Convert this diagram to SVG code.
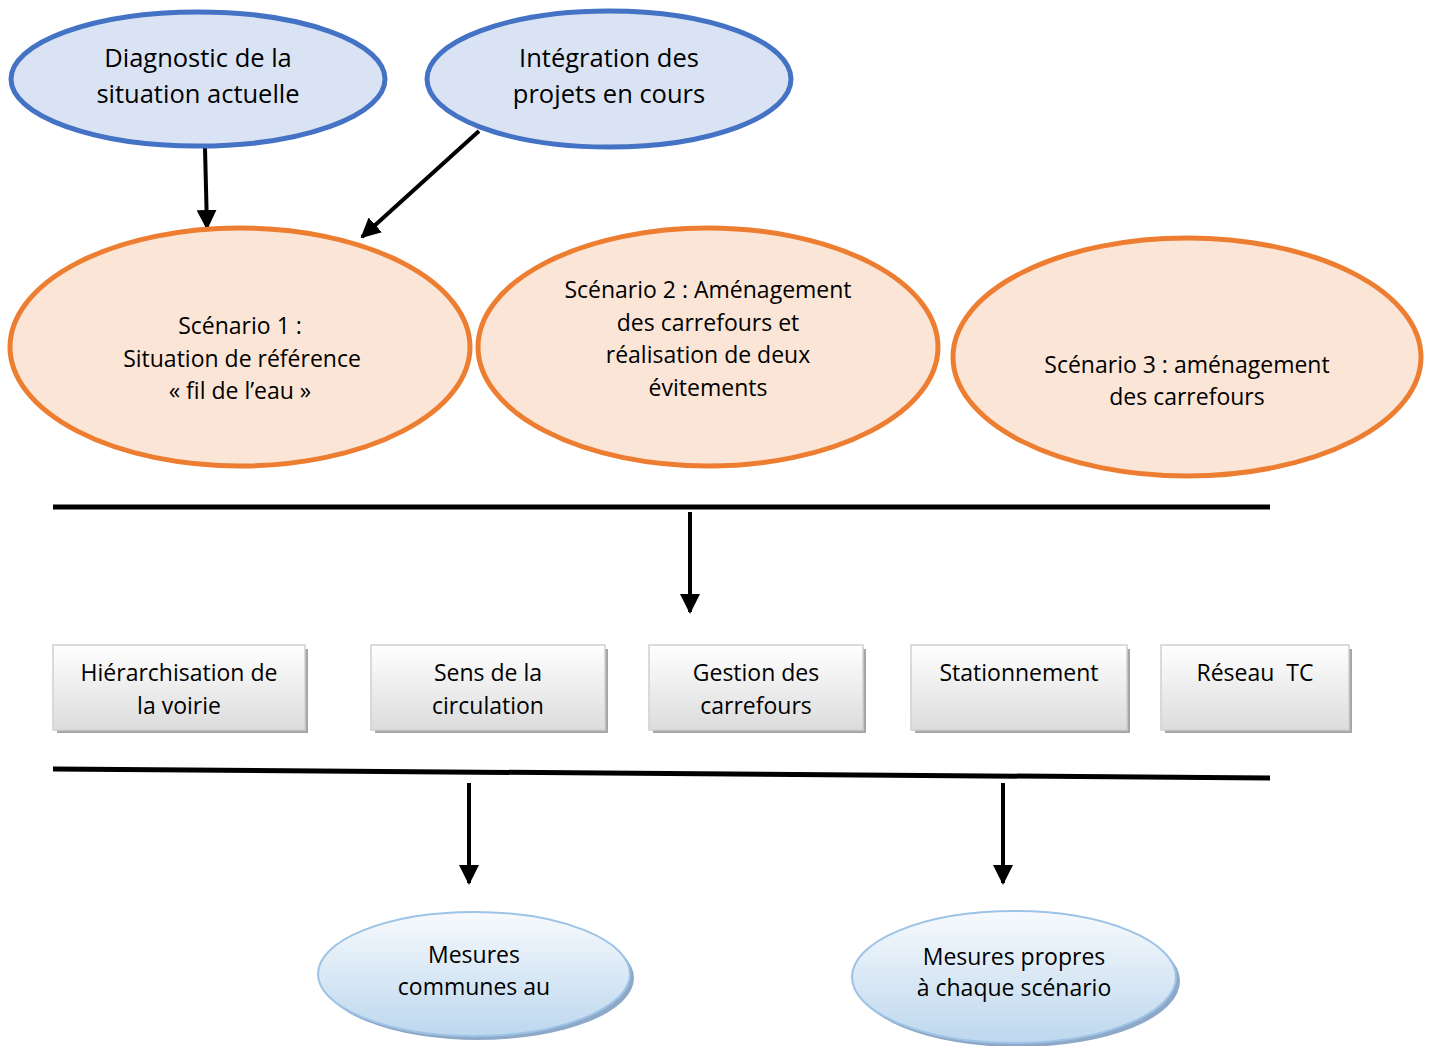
<svg xmlns="http://www.w3.org/2000/svg" width="1429" height="1046" viewBox="0 0 1429 1046">
<style>
text{font-family:"Open Sans","Noto Sans",sans-serif;fill:#000;text-anchor:middle}
.t1{font-size:25.5px}
.t2{font-size:23px}
.blue{fill:#DAE3F3;stroke:#4472C4;stroke-width:5}
.orange{fill:#FBE5D6;stroke:#ED7D31;stroke-width:5}
.box{fill:url(#gbox);stroke:#D0D0D0;stroke-width:1.5}
.shadow{fill:#A6A6A6}
.lb{fill:url(#gell);stroke:#9DC3E6;stroke-width:2}
.esh{fill:#8EA9C8}
.conn{stroke:#000;stroke-width:4;fill:none}
.bar{stroke:#000;stroke-width:5;fill:none}
</style>
<defs>
<marker id="ah" viewBox="0 0 10 10" refX="9" refY="5" markerWidth="5" markerHeight="5" orient="auto" markerUnits="strokeWidth">
<path d="M0,0 L10,5 L0,10 Z" fill="#000"/>
</marker>
<linearGradient id="gbox" x1="0" y1="0" x2="0" y2="1">
<stop offset="0" stop-color="#FFFFFF"/>
<stop offset="1" stop-color="#DCDCDC"/>
</linearGradient>
<linearGradient id="gell" x1="0" y1="0" x2="0" y2="1">
<stop offset="0" stop-color="#F7FAFD"/>
<stop offset="1" stop-color="#BDD7EE"/>
</linearGradient>
</defs>

<g id="connectors">
<line class="conn" x1="205" y1="148" x2="207" y2="228" marker-end="url(#ah)"/>
<line class="conn" x1="479" y1="131" x2="362" y2="237" marker-end="url(#ah)"/>
<line class="bar" x1="53" y1="507" x2="1270" y2="507"/>
<line class="conn" x1="690" y1="512" x2="690" y2="612" marker-end="url(#ah)"/>
<line class="bar" x1="53" y1="769" x2="1270" y2="778"/>
<line class="conn" x1="469" y1="783" x2="469" y2="883" marker-end="url(#ah)"/>
<line class="conn" x1="1003" y1="783" x2="1003" y2="883" marker-end="url(#ah)"/>
</g>

<g id="diagnostic">
<ellipse class="blue" cx="198" cy="79" rx="187" ry="67"/>
<text class="t1" x="198" y="67">Diagnostic de la</text>
<text class="t1" x="198" y="103">situation actuelle</text>
</g>
<g id="integration">
<ellipse class="blue" cx="609" cy="79" rx="182" ry="68"/>
<text class="t1" x="609" y="67">Intégration des</text>
<text class="t1" x="609" y="103">projets en cours</text>
</g>

<g id="scenario1">
<ellipse class="orange" cx="240" cy="347" rx="230" ry="119"/>
<text class="t2" x="240" y="334">Scénario 1 :</text>
<text class="t2" x="242" y="367">Situation de référence</text>
<text class="t2" x="240" y="399">« fil de l’eau »</text>
</g>
<g id="scenario2">
<ellipse class="orange" cx="708" cy="347" rx="230" ry="119"/>
<text class="t2" x="708" y="298">Scénario 2 : Aménagement</text>
<text class="t2" x="708" y="331">des carrefours et</text>
<text class="t2" x="708" y="363">réalisation de deux</text>
<text class="t2" x="708" y="396">évitements</text>
</g>
<g id="scenario3">
<ellipse class="orange" cx="1187" cy="357" rx="234" ry="119"/>
<text class="t2" x="1187" y="373">Scénario 3 : aménagement</text>
<text class="t2" x="1187" y="405">des carrefours</text>
</g>

<g id="hierarchisation">
<rect class="shadow" x="57" y="649" width="251" height="84"/>
<rect class="box" x="53" y="645" width="252" height="85"/>
<text class="t2" x="179" y="681">Hiérarchisation de</text>
<text class="t2" x="179" y="714">la voirie</text>
</g>
<g id="sens">
<rect class="shadow" x="375" y="649" width="233" height="84"/>
<rect class="box" x="371" y="645" width="234" height="85"/>
<text class="t2" x="488" y="681">Sens de la</text>
<text class="t2" x="488" y="714">circulation</text>
</g>
<g id="gestion">
<rect class="shadow" x="653" y="649" width="213" height="84"/>
<rect class="box" x="649" y="645" width="214" height="85"/>
<text class="t2" x="756" y="681">Gestion des</text>
<text class="t2" x="756" y="714">carrefours</text>
</g>
<g id="stationnement">
<rect class="shadow" x="915" y="649" width="215" height="84"/>
<rect class="box" x="911" y="645" width="216" height="85"/>
<text class="t2" x="1019" y="681">Stationnement</text>
</g>
<g id="reseau">
<rect class="shadow" x="1165" y="649" width="187" height="84"/>
<rect class="box" x="1161" y="645" width="188" height="85"/>
<text class="t2" x="1255" y="681" xml:space="preserve">Réseau  TC</text>
</g>

<g id="mesures-communes">
<ellipse class="esh" cx="478" cy="978" rx="156" ry="62"/>
<ellipse class="lb" cx="474" cy="974" rx="156" ry="62"/>
<text class="t2" x="474" y="963">Mesures</text>
<text class="t2" x="474" y="995">communes au</text>
</g>
<g id="mesures-propres">
<ellipse class="esh" cx="1018" cy="981" rx="162" ry="66"/>
<ellipse class="lb" cx="1014" cy="977" rx="162" ry="66"/>
<text class="t2" x="1014" y="965">Mesures propres</text>
<text class="t2" x="1014" y="996">à chaque scénario</text>
</g>
</svg>
